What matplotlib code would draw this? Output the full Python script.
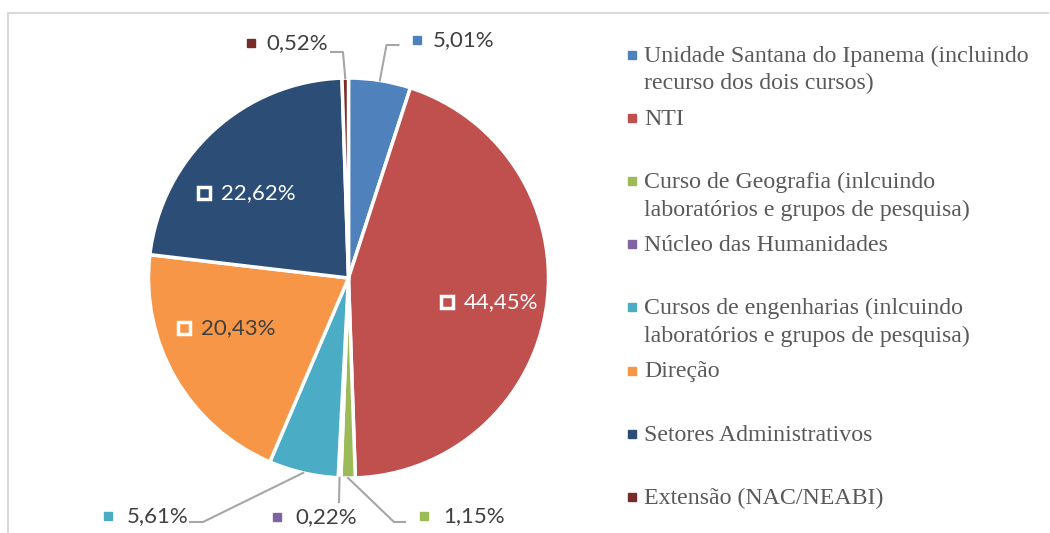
import numpy as np
import matplotlib.pyplot as plt
from matplotlib.lines import Line2D

# data
categories = ["Unidade Santana do Ipanema (incluindo\nrecurso dos dois cursos)",
              "NTI",
              "Curso de Geografia (inlcuindo\nlaboratórios e grupos de pesquisa)",
              "Núcleo das Humanidades",
              "Cursos de engenharias (inlcuindo\nlaboratórios e grupos de pesquisa)",
              "Direção",
              "Setores Administrativos",
              "Extensão (NAC/NEABI)"]
values = [5.01, 44.45, 1.15, 0.22, 5.61, 20.43, 22.62, 0.52]
value_labels = ["5,01%", "44,45%", "1,15%", "0,22%", "5,61%", "20,43%", "22,62%", "0,52%"]
colors = ["#4F81BD", "#C0504D", "#9BBB59", "#8064A2", "#4BACC6", "#F79646", "#2C4D75", "#772C2A"]

W, H = 1050, 533
fig = plt.figure(figsize=(W / 100, H / 100), dpi=100)

def fx(px):
    return px / W

def fy(py):
    return 1 - py / H

# pie axes: centre (348.5, 278) px, radius 200 px
ax = fig.add_axes([fx(148.5), fy(478), 400 / W, 400 / H])
wedges, _ = ax.pie(values, colors=colors, startangle=90, counterclock=False, radius=1,
                   wedgeprops=dict(edgecolor="white", linewidth=2.5))
ax.set_xlim(-1, 1)
ax.set_ylim(-1, 1)
ax.axis("off")

label_font = "Lato"
label_size = 16
dark = "#404040"

# inside labels: (index, x, y, text colour)
inside = [(1, 0.4925, -0.12, "white"),
          (6, -0.7225, 0.425, "white"),
          (5, -0.8225, -0.25, dark)]
for i, x, y, tc in inside:
    ax.plot([x], [y], marker="s", ms=8, mfc=colors[i], mec="white", mew=2.5, clip_on=False)
    ax.text(x + 0.085, y, value_labels[i], color=tc, fontsize=label_size, family=label_font,
            ha="left", va="center")

# outside labels: (index, elbow, end, marker x, text x, text y, text align)
outside = [(0, (0.19, 1.165), (0.25, 1.165), 0.34, 0.42, 1.19, "left"),
           (7, (-0.0275, 1.13), (-0.0875, 1.13), -0.49, -0.1025, 1.175, "right"),
           (4, (-0.7275, -1.22), (-0.7925, -1.22), -1.2025, -0.80, -1.19, "right"),
           (3, (-0.0475, -1.12), (-0.0475, -1.12), -0.3575, -0.2675, -1.195, "left"),
           (2, (0.2275, -1.22), (0.2825, -1.22), 0.3775, 0.4725, -1.19, "left")]
for i, elbow, end, mx, tx, ty, ha in outside:
    w = wedges[i]
    mid = np.deg2rad((w.theta1 + w.theta2) / 2)
    sx, sy = np.cos(mid), np.sin(mid)
    ax.add_line(Line2D([sx, elbow[0], end[0]], [sy, elbow[1], end[1]],
                       color="#A6A6A6", lw=1.5, clip_on=False))
    ax.plot([mx], [ty], marker="s", ms=6, color=colors[i], mec=colors[i], clip_on=False)
    ax.text(tx, ty, value_labels[i], color=dark, fontsize=label_size, family=label_font,
            ha=ha, va="center")

# legend drawn by hand
leg_y0, leg_step, line_step = 55, 63.1, 27.5
for k, (cat, col) in enumerate(zip(categories, colors)):
    y = leg_y0 + k * leg_step
    fig.add_artist(Line2D([fx(631.5)], [fy(y)], marker="s", ms=5.5, color=col, mec=col))
    for j, line in enumerate(cat.split("\n")):
        fig.text(fx(644), fy(y + 7 + j * line_step), line, family="Liberation Serif",
                 fontsize=17.2, color="#595959", ha="left", va="baseline")

# chart area border (left and top edges visible)
fig.add_artist(Line2D([fx(8), fx(8), fx(1048)], [0, fy(13), fy(13)], color="#D9D9D9", lw=1.5))

fig.savefig("out.png", dpi=100)
